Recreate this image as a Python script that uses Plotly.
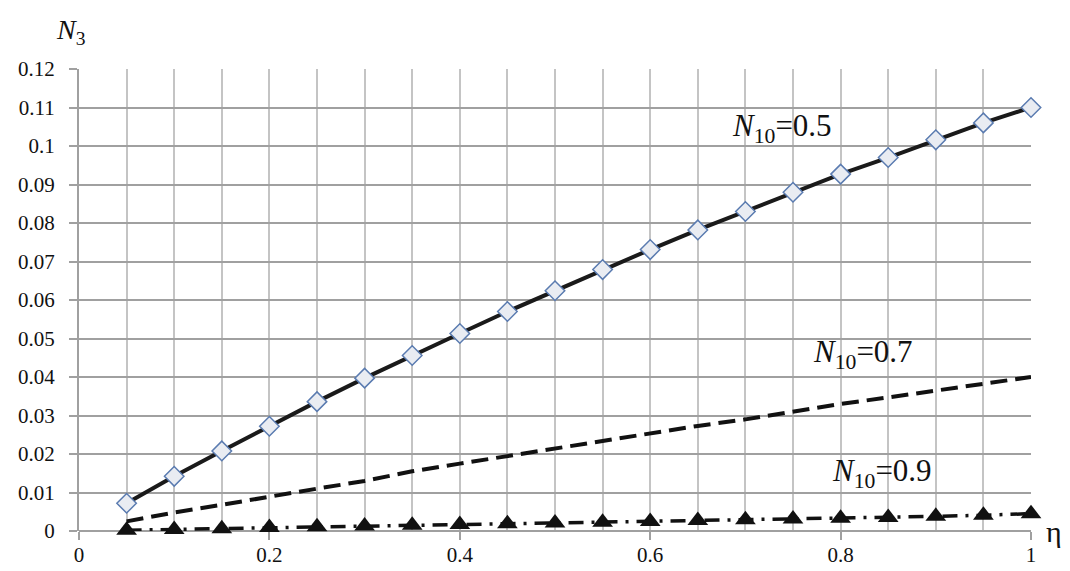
import plotly.graph_objects as go

eta = [0.05, 0.1, 0.15, 0.2, 0.25, 0.3, 0.35, 0.4, 0.45, 0.5,
       0.55, 0.6, 0.65, 0.7, 0.75, 0.8, 0.85, 0.9, 0.95, 1.0]
n3_n10_05 = [0.0072, 0.0142, 0.0208, 0.0272, 0.0336, 0.0397, 0.0456, 0.0513, 0.0570, 0.0624,
             0.0679, 0.0731, 0.0782, 0.0830, 0.0880, 0.0927, 0.0970, 0.1016, 0.1060, 0.1100]
n3_n10_07 = [0.0025, 0.0048, 0.0068, 0.0090, 0.0110, 0.0130, 0.0155, 0.0175, 0.0195, 0.0215,
             0.0235, 0.0255, 0.0273, 0.0290, 0.0310, 0.0330, 0.0347, 0.0365, 0.0382, 0.0400]
n3_n10_09 = [0.0002, 0.0004, 0.0006, 0.0009, 0.0011, 0.0013, 0.0015, 0.0017, 0.0019, 0.0021,
             0.0023, 0.0025, 0.0027, 0.0029, 0.0031, 0.0033, 0.0035, 0.0038, 0.0041, 0.0045]

FONT = "Liberation Serif, Times New Roman, serif"

fig = go.Figure()
fig.add_trace(go.Scatter(
    x=eta, y=n3_n10_07, mode="lines",
    line=dict(color="#111111", width=4, dash="17px,8px"),
    cliponaxis=False, showlegend=False))
fig.add_trace(go.Scatter(
    x=eta, y=n3_n10_09, mode="lines+markers",
    line=dict(color="#111111", width=3.5, dash="15px,8px,3px,8px"),
    marker=dict(symbol="triangle-up", size=18, color="#111111"),
    cliponaxis=False, showlegend=False))
fig.add_trace(go.Scatter(
    x=eta, y=n3_n10_05, mode="lines+markers",
    line=dict(color="#1a1a1a", width=4),
    marker=dict(symbol="diamond", size=15, color="#e9ecf2",
                line=dict(color="#5a7bb0", width=1.5)),
    cliponaxis=False, showlegend=False))

ann_font = dict(family=FONT, size=31, color="#111111")
fig.add_annotation(x=0.738, y=0.1047, text="<i>N</i><sub>10</sub>=0.5",
                   showarrow=False, font=ann_font)
fig.add_annotation(x=0.823, y=0.046, text="<i>N</i><sub>10</sub>=0.7",
                   showarrow=False, font=ann_font)
fig.add_annotation(x=0.843, y=0.015, text="<i>N</i><sub>10</sub>=0.9",
                   showarrow=False, font=ann_font)
fig.add_annotation(x=0, y=1, xref="paper", yref="paper", xshift=-8, yshift=18,
                   text="<i>N</i><sub>3</sub>", showarrow=False,
                   xanchor="center", yanchor="bottom",
                   font=dict(family=FONT, size=28, color="#111111"))
fig.add_annotation(x=1, y=0, xref="paper", yref="y", xshift=13,
                   text="η", showarrow=False, xanchor="left", yanchor="middle",
                   font=dict(family=FONT, size=30, color="#111111"))

tickfont = dict(family=FONT, size=21, color="#111111")
fig.update_layout(
    width=1062, height=563,
    margin=dict(l=71, r=39, t=61, b=40, autoexpand=False),
    paper_bgcolor="white", plot_bgcolor="white",
    font=dict(family=FONT, size=21, color="#111111"),
    xaxis=dict(range=[0, 1], dtick=0.2, tick0=0, automargin=False,
               tickfont=tickfont,
               showgrid=True, gridcolor="#c4c4c4", gridwidth=2,
               minor=dict(dtick=0.05, showgrid=True, gridcolor="#c4c4c4", gridwidth=2),
               ticks="outside", ticklen=8, tickwidth=2, tickcolor="#a0a0a0",
               showline=False, zeroline=False, ticklabelstandoff=-3),
    yaxis=dict(range=[0, 0.12], dtick=0.01, tick0=0, automargin=False,
               tickfont=tickfont,
               showgrid=True, gridcolor="#a0a0a0", gridwidth=2,
               ticks="outside", ticklen=8, tickwidth=2, tickcolor="#a0a0a0",
               showline=True, linecolor="#a0a0a0", linewidth=2,
               zeroline=True, zerolinecolor="#a0a0a0", zerolinewidth=2,
               ticklabelstandoff=10),
)

fig.write_html("out.html")
